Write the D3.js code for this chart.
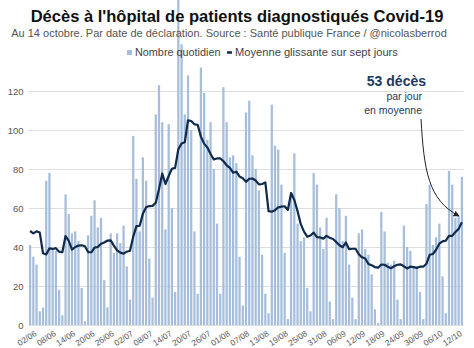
<!DOCTYPE html>
<html><head><meta charset="utf-8">
<script src="https://cdn.jsdelivr.net/npm/d3@7/dist/d3.min.js"></script>
<style>body{margin:0;background:#fff;} svg{display:block;font-family:"Liberation Sans",Arial,Helvetica,sans-serif;}</style>
</head><body><svg id="c" width="474" height="348"></svg>
<script>
// Daily deaths (Nombre quotidien), from 02/06 to 14/10
const daily = [
 41,35,31,7,9,74,78,39,38,18,
 5,67,57,47,48,43,19,2,46,56,
 64,50,55,23,9,47,37,47,42,51,
 30,13,97,75,48,86,74,34,14,108,
 123,104,49,103,60,17,175,144,108,128,
 100,48,16,132,119,95,104,80,52,16,
 122,104,86,87,83,35,10,109,115,87,
 80,69,36,16,6,113,92,90,72,37,
 3,67,88,52,43,45,19,7,78,72,
 50,39,55,12,3,67,60,43,56,31,
 14,3,47,49,39,36,26,8,1,58,
 48,32,31,33,13,3,51,40,38,30,
 30,17,3,62,72,41,45,52,25,6,
 79,72,55,56,76
];
// Moyenne glissante sur sept jours
const avg = [
 48.2,47.0,48.0,47.4,36.8,36.2,39.3,39.0,39.4,37.6,
 37.3,45.6,43.1,38.7,40.0,40.7,40.9,40.4,37.4,37.3,
 39.7,40.0,41.7,42.3,43.3,43.4,40.7,38.3,37.1,36.6,
 37.6,38.1,45.3,50.7,50.9,57.1,60.4,61.0,61.1,62.7,
 69.6,77.6,72.3,76.4,80.1,80.6,90.1,93.1,93.7,105.0,
 104.6,102.9,102.7,96.6,93.0,91.1,87.7,84.9,85.4,85.4,
 84.0,81.9,80.6,78.1,78.6,76.1,75.3,73.4,75.0,75.1,
 74.1,72.1,72.3,73.1,58.4,58.1,58.9,60.3,60.7,60.9,
 59.0,67.7,64.1,58.4,51.7,47.9,45.3,45.9,47.4,45.1,
 44.9,44.3,45.7,44.7,44.1,42.6,40.9,39.9,42.3,38.9,
 39.1,39.1,36.3,34.7,34.1,31.3,30.6,29.7,29.4,31.0,
 30.9,29.9,29.1,30.1,30.9,31.1,30.1,29.0,29.9,29.7,
 29.3,29.9,29.9,31.4,36.0,36.4,38.6,41.7,42.9,43.3,
 45.7,45.7,47.7,49.3,52.7
];
const tickLabels = ["02/06","08/06","14/06","20/06","26/06","02/07","08/07","14/07","20/07","26/07","01/08","07/08","13/08","19/08","25/08","31/08","06/09","12/09","18/09","24/09","30/09","06/10","12/10"];
const yTicks = [0,20,40,60,80,100,120];
const startDate = "2020-06-02";
const titleText = "Décès à l'hôpital de patients diagnostiqués Covid-19";
const subtitleText = "Au 14 octobre. Par date de déclaration. Source : Santé publique France / @nicolasberrod";
const legendLabels = ["Nombre quotidien","Moyenne glissante sur sept jours"];
const annotation = ["53 décès","par jour","en moyenne"];

const barColor = "#a6bedb", lineColor = "#0f2a4d", navy = "#1c3a60";
const svg = d3.select("#c");
const parse = d3.timeParse("%Y-%m-%d"), fmt = d3.timeFormat("%d/%m");
const d0 = parse(startDate);
const days = d3.timeDay.range(d0, d3.timeDay.offset(d0, daily.length)).map(fmt);

const x = d3.scaleBand().domain(days).range([28.5, 463.5]).paddingInner(0.3).paddingOuter(0.15);
const y = d3.scaleLinear().domain([0,120]).range([325,91]);

function fit(sel, target){
  const w = sel.node().getComputedTextLength();
  const fs = parseFloat(sel.attr("font-size"));
  sel.attr("font-size", (fs*target/w).toFixed(2));
}

// grid + y axis
const gy = svg.append("g").attr("transform","translate(28.5,0)")
  .call(d3.axisLeft(y).tickValues(yTicks).tickSize(-435).tickPadding(5));
gy.select(".domain").remove();
gy.selectAll(".tick line").attr("stroke","#dedede");
gy.selectAll(".tick text").attr("fill","#555").attr("font-size","9.5px").attr("font-family","Liberation Sans, Arial, sans-serif");

// bars
svg.append("g").selectAll("rect").data(daily).join("rect")
  .attr("x",(d,i)=>x(days[i])).attr("width",x.bandwidth())
  .attr("y",d=>y(d)).attr("height",d=>y(0)-y(d))
  .attr("fill",barColor);

// line
svg.append("path").datum(avg)
  .attr("fill","none").attr("stroke",lineColor).attr("stroke-width",2.2).attr("stroke-linejoin","round")
  .attr("d", d3.line().x((d,i)=>x(days[i])+x.bandwidth()/2).y(d=>y(d)));

// x axis labels
const gx = svg.append("g").attr("transform","translate(0,330)")
  .call(d3.axisBottom(x).tickValues(tickLabels).tickSize(0).tickPadding(0));
gx.select(".domain").remove();
gx.selectAll(".tick text").attr("fill","#555").attr("font-size","8.3px").attr("font-family","Liberation Sans, Arial, sans-serif")
  .attr("text-anchor","end").attr("y",0).attr("dy","0.7em").attr("transform","translate(4,0) rotate(-33)");

// title & subtitle
const t = svg.append("text").attr("x",237).attr("y",22).attr("text-anchor","middle")
  .attr("font-weight","bold").attr("font-size",17).attr("fill","#111").text(titleText);
fit(t, 413);
const st = svg.append("text").attr("x",229).attr("y",37).attr("text-anchor","middle")
  .attr("font-size",10.5).attr("fill","#555").text(subtitleText);
fit(st, 436);

// legend
svg.append("rect").attr("x",127).attr("y",50).attr("width",5).attr("height",5).attr("fill",barColor);
const l1 = svg.append("text").attr("x",135).attr("y",56).attr("font-size",10.5).attr("fill","#444").text(legendLabels[0]);
fit(l1, 85.5);
svg.append("line").attr("x1",227).attr("x2",232).attr("y1",52.5).attr("y2",52.5).attr("stroke",lineColor).attr("stroke-width",2.5);
const l2 = svg.append("text").attr("x",235).attr("y",56).attr("font-size",10.5).attr("fill","#444").text(legendLabels[1]);
fit(l2, 163);

// annotation
svg.append("text").attr("x",426).attr("y",86).attr("text-anchor","end").attr("font-weight","bold")
  .attr("font-size",14).attr("fill",navy).text(annotation[0]);
svg.append("text").attr("x",422).attr("y",100).attr("text-anchor","end")
  .attr("font-size",10.5).attr("fill",navy).text(annotation[1]);
svg.append("text").attr("x",422).attr("y",114).attr("text-anchor","end")
  .attr("font-size",10.5).attr("fill",navy).text(annotation[2]);

svg.append("defs").append("marker").attr("id","arr").attr("viewBox","0 0 10 10")
  .attr("refX",9).attr("refY",5).attr("markerWidth",6).attr("markerHeight",6).attr("orient","auto")
  .append("path").attr("d","M0,0L10,5L0,10z").attr("fill","#222");
svg.append("path").attr("d","M421,119 C424,170 428,200 459,216")
  .attr("fill","none").attr("stroke","#222").attr("stroke-width",1).attr("marker-end","url(#arr)");
</script></body></html>
